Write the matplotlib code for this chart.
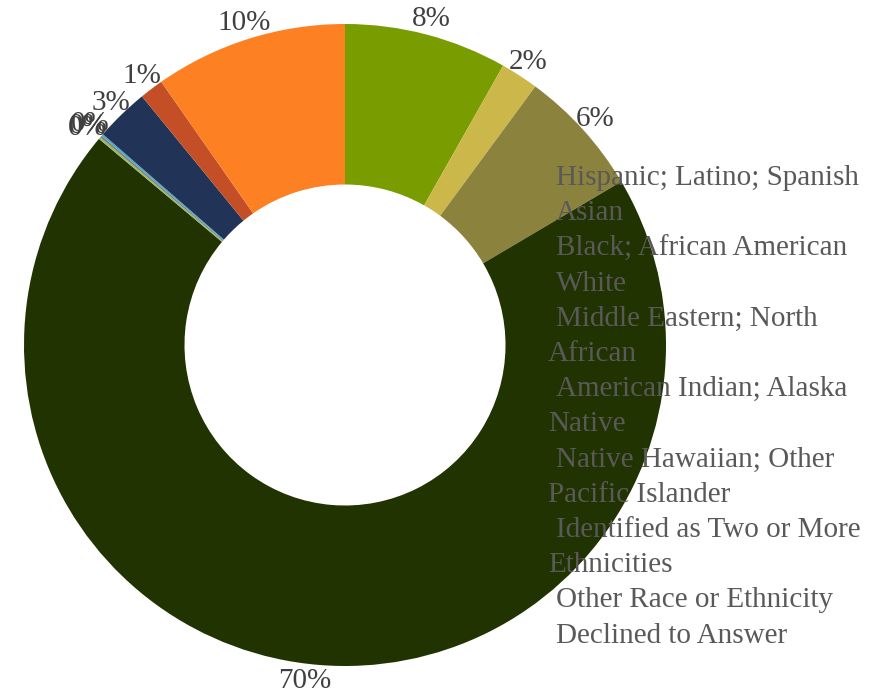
import matplotlib
matplotlib.use("Agg")
import matplotlib.pyplot as plt

# ethnicity breakdown (percent), clockwise from 12 o'clock
categories = [
    "Hispanic; Latino; Spanish",
    "Asian",
    "Black; African American",
    "White",
    "Middle Eastern; North\nAfrican",
    "American Indian; Alaska\nNative",
    "Native Hawaiian; Other\nPacific Islander",
    "Identified as Two or More\nEthnicities",
    "Other Race or Ethnicity",
    "Declined to Answer",
]
values = [8.2, 1.9, 6.4, 69.6, 0.1, 0.1, 0.1, 2.7, 1.2, 9.7]
colors = ["#799c00", "#ccb84a", "#8b823e", "#213300", "#9bbb59",
          "#7f7f7f", "#4bacc6", "#223358", "#c44f27", "#fd8023"]

plt.rcParams['font.family'] = ['Liberation Serif', 'DejaVu Serif']

W, H = 894, 696
fig = plt.figure(figsize=(W / 100, H / 100), dpi=100)
ax = fig.add_axes([0, 0, 1, 1])

# pie centre and radius in pixels
cx, cy, R = 345, 345, 321

wedges, texts, autotexts = ax.pie(
    values, colors=colors, startangle=90, counterclock=False,
    radius=1, autopct='%.0f%%', pctdistance=1.05,
    wedgeprops=dict(width=0.5, linewidth=0),
    textprops=dict(fontsize=21, color='#404040'))

# bottom label sits a bit left of the slice midpoint, like the original
autotexts[3].set_x(autotexts[3].get_position()[0] - 0.04)

ax.set_xlim(-cx / R, (W - cx) / R)
ax.set_ylim(-(H - cy) / R, cy / R)
ax.set_aspect('auto')
ax.axis('off')

# legend drawn as plain text lines (markers not visible in source)
y = 178
step = 35.2
for lab in categories:
    for i, line in enumerate(lab.split('\n')):
        x = 556 if i == 0 else 548
        fig.text(x / W, 1 - y / H, line, fontsize=21, color='#595959',
                 ha='left', va='center')
        y += step

fig.savefig("out.png", dpi=100)
